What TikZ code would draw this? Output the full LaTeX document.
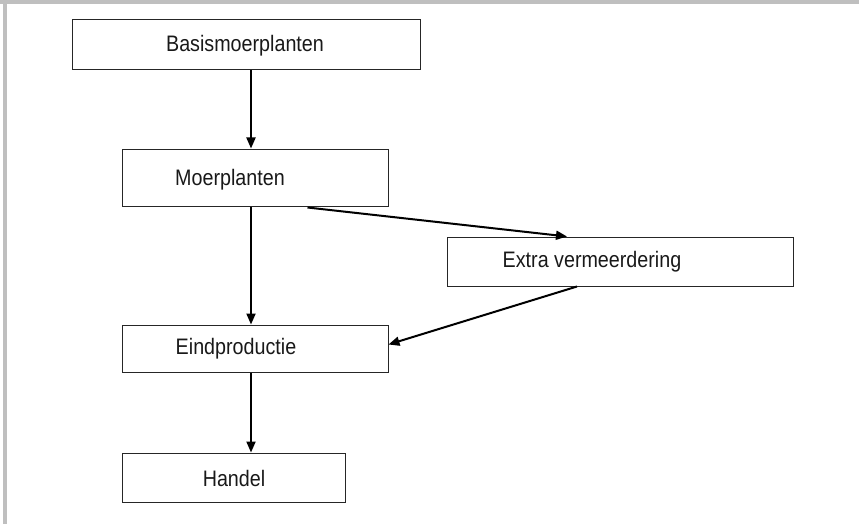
\documentclass[tikz,border=0pt]{standalone}
\usepackage{fontspec}
\setmainfont{Liberation Sans}[FakeStretch=0.88]
\usetikzlibrary{arrows.meta}
\begin{document}
\begin{tikzpicture}[x=1pt,y=-1pt,
  box/.style={draw=black!85,line width=1pt,minimum width=#1,inner sep=0pt,rectangle},
  txt/.style={inner sep=0pt,font=\fontsize{22.4}{26}\selectfont,text=black!90},
  arr/.style={line width=2pt,-{Triangle[length=11pt,width=9pt]}}]
\useasboundingbox (0,0) rectangle (859,524);
\fill[black!25] (0,0) rectangle (859,4);
\fill[black!25] (3,0) rectangle (7,524);
% boxes
\node[box=348pt,minimum height=50pt] (basis) at (246,45) {};
\node[box=266pt,minimum height=57pt] (moer) at (255,177.5) {};
\node[box=346pt,minimum height=49pt] (extra) at (620,261.5) {};
\node[box=266pt,minimum height=47pt] (eind) at (255,348.5) {};
\node[box=223pt,minimum height=49pt] (handel) at (233.5,477.5) {};
% texts
\node[txt] (tbasis) at (245,46) {Basismoerplanten};
\node[txt] (tmoer) at (230,180) {Moerplanten};
\node[txt] (textra) at (592,262) {Extra vermeerdering};
\node[txt] (teind) at (236,349) {Eindproductie};
\node[txt] (thandel) at (234,478) {Handel};
% arrows
\draw[arr] (basis.south -| 251,0) -- (moer.north -| 251,0);
\draw[arr] (moer.south -| 251,0) -- (eind.north -| 251,0);
\draw[arr] (eind.south -| 251,0) -- (handel.north -| 251,0);
\coordinate (m1) at ([xshift=186pt,yshift=-1pt]moer.south west);
\draw[arr] (m1) -- (extra.north -| 567,0);
\coordinate (e1) at (extra.south -| 577,0);
\draw[arr] (e1) -- ([yshift=4pt]eind.east);
\end{tikzpicture}
\end{document}
